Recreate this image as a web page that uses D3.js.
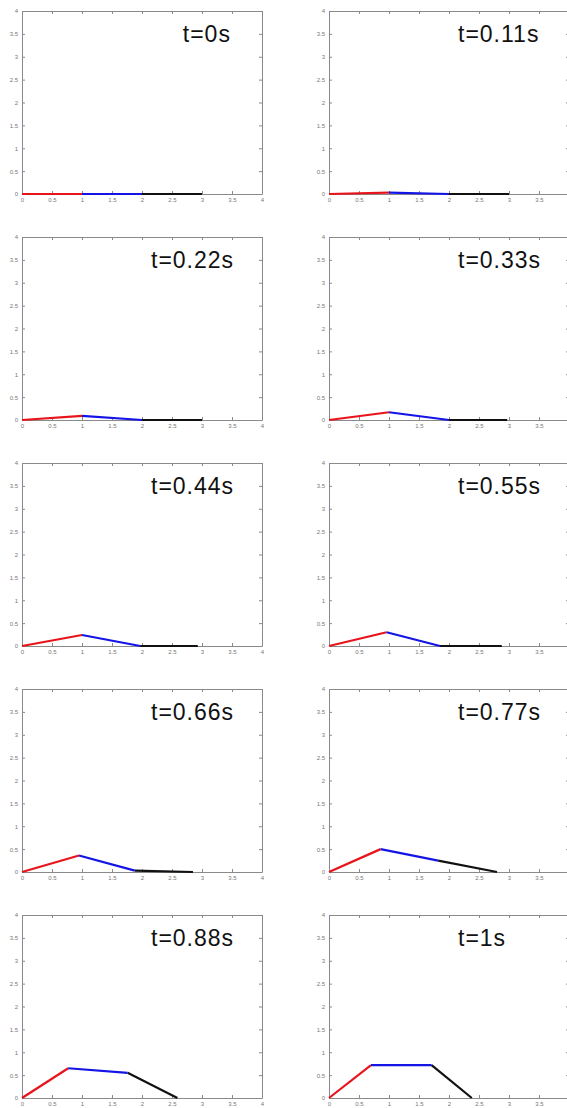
<!DOCTYPE html>
<html><head><meta charset="utf-8">
<script src="https://cdn.jsdelivr.net/npm/d3@7"></script>
<style>body{margin:0;background:#fff;}svg{display:block;}</style>
</head><body>
<svg id="c" width="567" height="1108"></svg>
<script>
const times     = ["t=0s","t=0.11s","t=0.22s","t=0.33s","t=0.44s","t=0.55s","t=0.66s","t=0.77s","t=0.88s","t=1s"];
const kneeX     = [1, 1, 1, 1, 1.0, 0.96, 0.95, 0.86, 0.77, 0.70];
const kneeY     = [0, 0.03, 0.09, 0.17, 0.24, 0.30, 0.36, 0.50, 0.65, 0.72];
const shoulderX = [2, 2, 2, 2, 1.97, 1.85, 1.88, 1.82, 1.76, 1.71];
const shoulderY = [0, 0, 0, 0, 0, 0, 0.03, 0.25, 0.55, 0.72];
const toeX      = [3, 3, 3, 2.97, 2.93, 2.88, 2.85, 2.8, 2.59, 2.38];
const titleX    = [2.68, 2.15, 2.15, 2.15, 2.15, 2.15, 2.15, 2.15, 2.15, 2.15];
const tickVals  = [0, 0.5, 1, 1.5, 2, 2.5, 3, 3.5, 4];
const segColors = ["#e8141b", "#1414e6", "#111111"];

const W = 240, H = 183;
const colLeft = [22, 329];
const rowTop0 = 11, rowStep = 226;

const svg = d3.select("#c");
svg.append("rect").attr("width",567).attr("height",1108).attr("fill","#fff");

const x = d3.scaleLinear().domain([0,4]).range([0,W]);
const y = d3.scaleLinear().domain([0,4]).range([H,0]);
const fmt = d => String(d);

times.forEach((t,i) => {
  const col = i % 2, row = Math.floor(i/2);
  const g = svg.append("g").attr("transform",`translate(${colLeft[col]},${rowTop0 + row*rowStep})`);

  const styleAxis = sel => {
    sel.select(".domain").attr("stroke","#8a8a8a").attr("stroke-width",1);
    sel.selectAll(".tick line").attr("stroke","#8a8a8a");
    sel.selectAll(".tick text").attr("fill","#777").attr("font-size","6px")
       .attr("font-family","Liberation Sans, Arial, sans-serif");
  };
  g.append("g").attr("transform",`translate(0,${H})`)
    .call(d3.axisBottom(x).tickValues(tickVals).tickFormat(fmt).tickSize(-3).tickPadding(4).tickSizeOuter(0))
    .call(styleAxis);
  g.append("g")
    .call(d3.axisLeft(y).tickValues(tickVals).tickFormat(fmt).tickSize(-3).tickPadding(4).tickSizeOuter(0))
    .call(styleAxis);
  g.append("g")
    .call(d3.axisTop(x).tickValues(tickVals).tickFormat("").tickSize(-3).tickSizeOuter(0))
    .call(styleAxis);
  g.append("g").attr("transform",`translate(${W},0)`)
    .call(d3.axisRight(y).tickValues(tickVals).tickFormat("").tickSize(-3).tickSizeOuter(0))
    .call(styleAxis);

  const pts = [[0,0],[kneeX[i],kneeY[i]],[shoulderX[i],shoulderY[i]],[toeX[i],0]];
  const line = d3.line().x(d=>x(d[0])).y(d=>y(d[1]));
  for (let s=0; s<3; s++) {
    g.append("path").attr("d", line([pts[s],pts[s+1]]))
      .attr("fill","none").attr("stroke",segColors[s]).attr("stroke-width",2.2)
      .attr("stroke-linecap","butt");
  }

  g.append("text").attr("x", x(titleX[i])).attr("y", 31)
    .attr("font-family","Liberation Sans, Arial, sans-serif")
    .attr("font-size","23px").attr("letter-spacing","1px").attr("fill","#111")
    .text(t);
});
</script>
</body></html>
